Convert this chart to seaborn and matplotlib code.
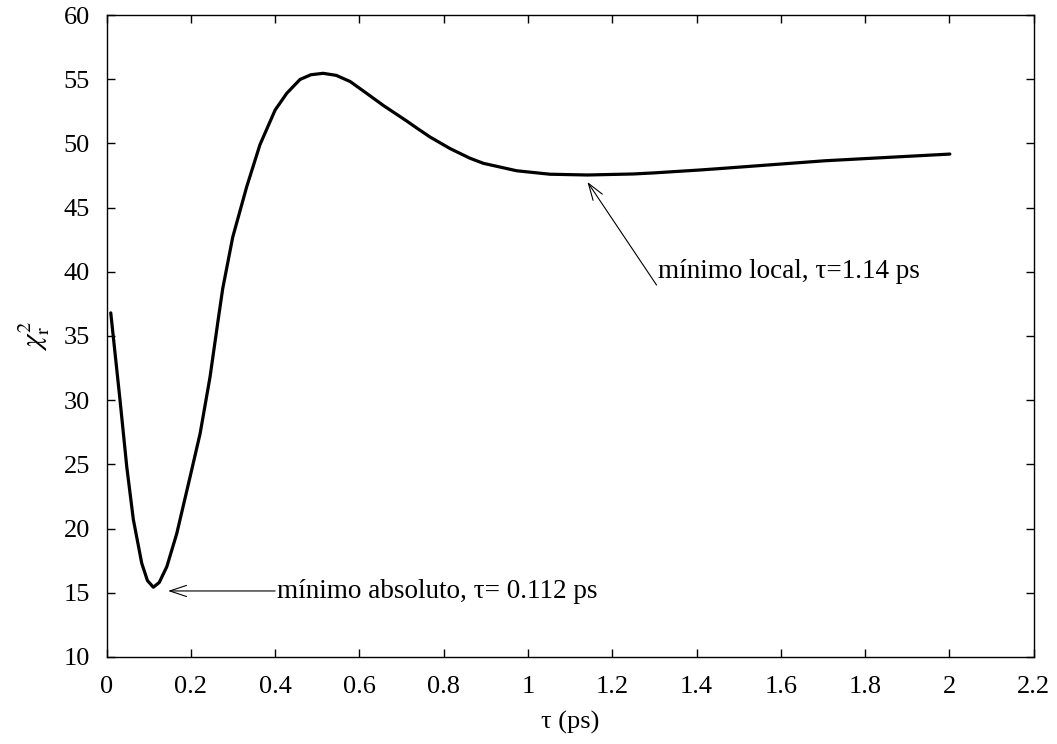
import matplotlib
matplotlib.use("Agg")
import matplotlib.pyplot as plt
import seaborn as sns
import pandas as pd

tau = [0.010, 0.032, 0.048, 0.0636, 0.0835, 0.097, 0.111, 0.125, 0.143, 0.1665,
       0.198, 0.222, 0.2455, 0.265, 0.2757, 0.2994, 0.3326, 0.364, 0.400, 0.4275,
       0.459, 0.485, 0.514, 0.545, 0.578, 0.615, 0.657, 0.712, 0.736, 0.7675,
       0.815, 0.862, 0.894, 0.973, 1.052, 1.141, 1.250, 1.297, 1.408, 1.455,
       1.705, 2.001]
chi2 = [36.8, 30.0, 24.8, 20.7, 17.3, 15.95, 15.43, 15.8, 17.03, 19.6,
        24.0, 27.4, 31.8, 36.3, 38.7, 42.7, 46.63, 49.9, 52.6, 53.9,
        54.98, 55.35, 55.46, 55.3, 54.82, 53.95, 52.95, 51.75, 51.2, 50.5,
        49.6, 48.85, 48.45, 47.87, 47.6, 47.54, 47.62, 47.7, 47.93, 48.04,
        48.65, 49.17]

xticks = [0, 0.2, 0.4, 0.6, 0.8, 1, 1.2, 1.4, 1.6, 1.8, 2, 2.2]
xticklabels = ["0", "0.2", "0.4", "0.6", "0.8", "1", "1.2", "1.4", "1.6", "1.8", "2", "2.2"]
yticks = [10, 15, 20, 25, 30, 35, 40, 45, 50, 55, 60]

sns.set_style("ticks")
plt.rcParams['font.family'] = ['Liberation Serif', 'DejaVu Serif']
plt.rcParams['mathtext.fontset'] = 'stix'
plt.rcParams['text.color'] = 'black'
plt.rcParams['axes.labelcolor'] = 'black'

df = pd.DataFrame({"tau": tau, "chi2": chi2})

fig = plt.figure(figsize=(10.57, 7.44), dpi=100)
ax = fig.add_axes([0.1008, 0.117, 0.978 - 0.1008, 0.9798 - 0.117])
sns.lineplot(data=df, x="tau", y="chi2", ax=ax, color="black", linewidth=2.3, sort=False)
ax.lines[0].set_solid_joinstyle("round")

ax.set_xlim(0, 2.2)
ax.set_ylim(10, 60)
ax.set_xticks(xticks)
ax.set_xticklabels(xticklabels)
ax.set_yticks(yticks)
ax.tick_params(direction="in", length=6, width=1, top=True, right=True,
               labelsize=19, colors="black")
ax.tick_params(axis="x", pad=14)
ax.tick_params(axis="y", pad=12)
for s in ax.spines.values():
    s.set_visible(True)
    s.set_linewidth(1.0)
    s.set_color("black")

ax.set_xlabel("τ (ps)", fontsize=19, labelpad=9)
ax.set_ylabel(r"$\chi^2_{\rm r}$", fontsize=21, labelpad=8)

arrow = dict(arrowstyle="->,head_length=1.2,head_width=0.4", color="black", lw=0.8,
             shrinkA=0, shrinkB=0, mutation_scale=10)
ax.annotate("", xy=(0.146, 15.14), xytext=(0.400, 15.14), arrowprops=arrow)
ax.text(0.404, 15.06, "mínimo absoluto, τ= 0.112 ps", fontsize=19.5, va="center", ha="left")
ax.annotate("", xy=(1.141, 47.0), xytext=(1.305, 38.97), arrowprops=arrow)
ax.text(1.309, 40.0, "mínimo local, τ=1.14 ps", fontsize=19.5, va="center", ha="left")

fig.savefig("out.png", dpi=100)
